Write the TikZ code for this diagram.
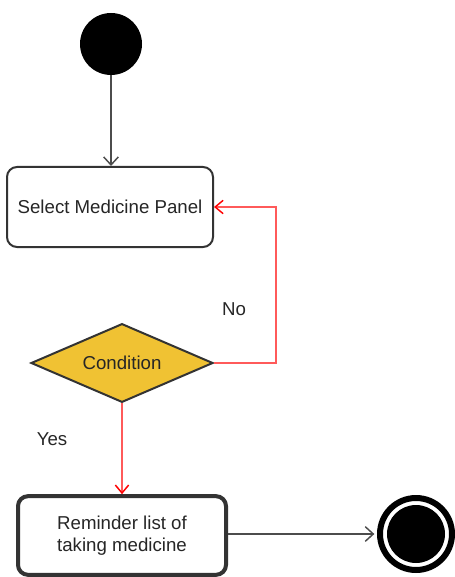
\documentclass[tikz,border=0pt]{standalone}
\usepackage{fontspec}
\setmainfont{Liberation Sans}
\usetikzlibrary{shapes.geometric,arrows.meta}
\definecolor{boxline}{HTML}{333333}
\definecolor{flowred}{HTML}{FF5A5A}
\definecolor{condfill}{HTML}{F0C233}
\tikzset{
	activity/.style={draw=boxline, rounded corners=7.5pt, fill=white, align=center,
		minimum width=154.5pt, minimum height=60pt, inner sep=0pt},
	flow/.style={draw=black!70, line width=1.1pt, -{Straight Barb[length=6pt,width=11pt,line width=1.1pt]}},
	redflow/.style={draw=flowred, line width=1.1pt, -{Straight Barb[length=6pt,width=10pt,line width=1.1pt,color=red]}},
}
\begin{document}
\begin{tikzpicture}[x=0.75pt, y=-0.75pt, font=\fontsize{14}{16.5}\selectfont, text=black!85]
		\useasboundingbox (0, 0) rectangle (454, 577);
		\node[circle, fill=black, minimum size=46.5pt, inner sep=0pt] (start) at (111, 44) {};
		\node[activity, line width=1.5pt] (select) at (110, 207) {Select Medicine Panel};
		\node[diamond, aspect=2.3, draw=boxline, line width=1.5pt, fill=condfill, inner sep=0pt,
			minimum width=136.5pt, minimum height=59pt] (cond) at (122, 363) {Condition};
		\node[activity, line width=3pt, minimum width=156pt, minimum height=59pt] (remind) at (122, 535.5)
			{Reminder list of\\taking medicine};
		\node[circle, draw=black, line width=4.5pt, minimum size=54pt, inner sep=0pt] (final) at (416, 534) {};
		\node[circle, fill=black, minimum size=43.5pt, inner sep=0pt] (finaldot) at (416, 534) {};
		\draw[flow] (start) -- (start |- select.north);
		\draw[redflow] (cond.east) -- ++(62, 0) |- (select.east);
		\draw[redflow] (cond.south) -- (remind.north);
		\draw[flow, shorten >=2pt] (remind.east |- final) -- (final.west);
		\node (no) at (234, 309) {No};
		\node (yes) at (52, 439) {Yes};
	\end{tikzpicture}
\end{document}
